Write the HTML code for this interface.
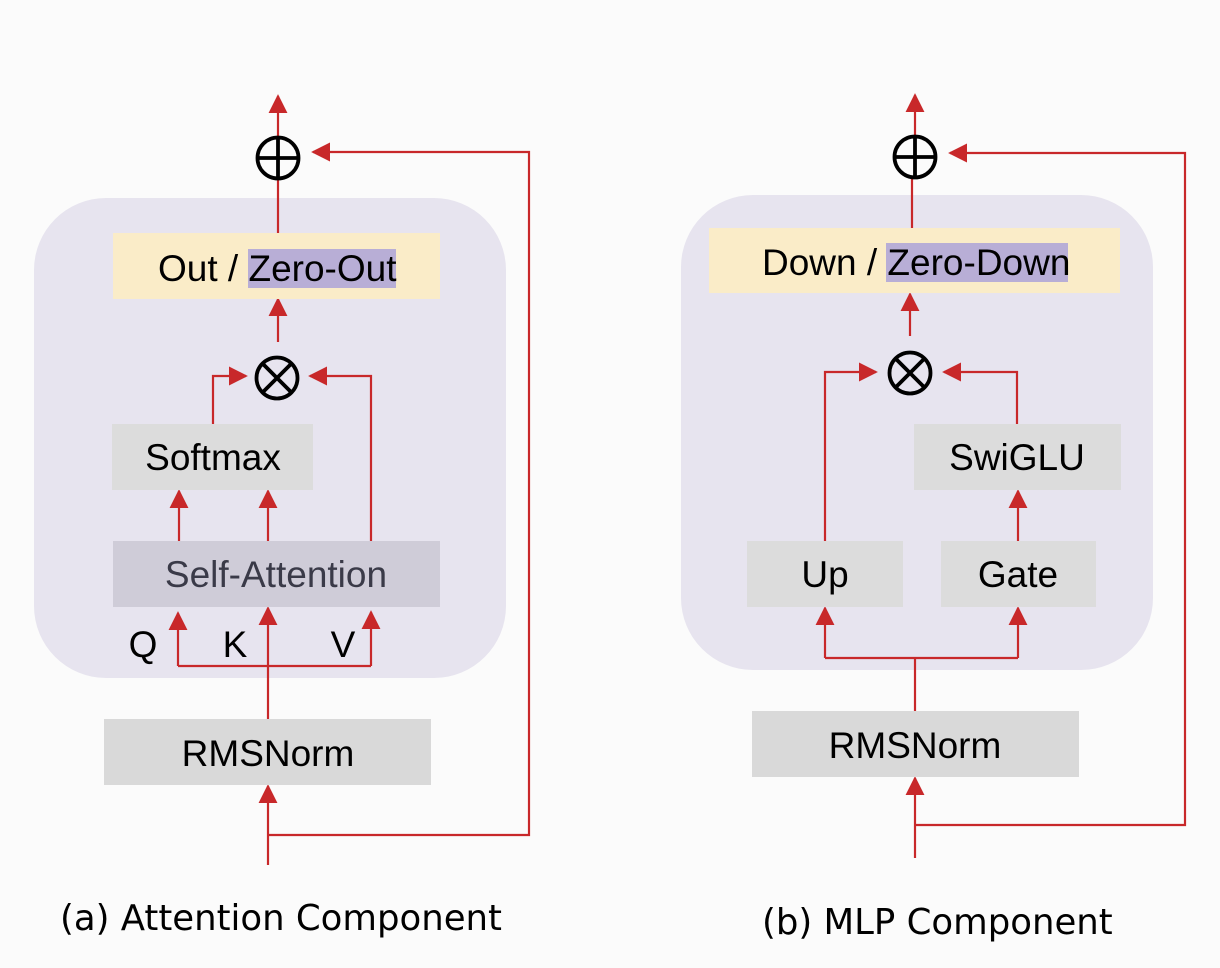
<!DOCTYPE html>
<html><head><meta charset="utf-8"><style>
html,body{margin:0;padding:0;background:#fbfbfb}
svg{display:block}
.t{font-family:"Liberation Sans",Arial,sans-serif;font-size:37px}
.c{font-family:"DejaVu Sans",sans-serif;font-size:35.5px}
</style></head><body>
<svg width="1220" height="968" viewBox="0 0 1220 968" xmlns="http://www.w3.org/2000/svg">
<defs>
<marker id="a" viewBox="0 0 10 10" refX="9" refY="5" markerWidth="19" markerHeight="19" markerUnits="userSpaceOnUse" orient="auto">
<path d="M0,0 L10,5 L0,10 z" fill="#c8282a"/>
</marker>
</defs>
<rect width="1220" height="968" fill="#fbfbfb"/>
<rect x="34" y="198" width="472" height="480" rx="72" fill="#e7e4ef"/>
<rect x="681" y="195" width="472" height="475" rx="72" fill="#e7e4ef"/>

<g stroke="#c8282a" stroke-width="2.2" fill="none">
<path d="M278,138 V96" marker-end="url(#a)"/>
<path d="M278,178 V233"/>
<path d="M268,835 H529 V152 H313" marker-end="url(#a)"/>
<path d="M278,342 V299" marker-end="url(#a)"/>
<path d="M213,424 V376 H246" marker-end="url(#a)"/>
<path d="M371,565 V376 H310" marker-end="url(#a)"/>
<path d="M179,541 V491" marker-end="url(#a)"/>
<path d="M268,541 V491" marker-end="url(#a)"/>
<path d="M178,666 H371"/>
<path d="M178,666 V613" marker-end="url(#a)"/>
<path d="M371,666 V612" marker-end="url(#a)"/>
<path d="M268,719 V608" marker-end="url(#a)"/>
<path d="M268,865 V786" marker-end="url(#a)"/>
<path d="M915,137 V95" marker-end="url(#a)"/>
<path d="M912,177 V228"/>
<path d="M915,825 H1185 V153 H950" marker-end="url(#a)"/>
<path d="M910,336 V294" marker-end="url(#a)"/>
<path d="M825,541 V372 H876" marker-end="url(#a)"/>
<path d="M1017,424 V372 H944" marker-end="url(#a)"/>
<path d="M1018,541 V491" marker-end="url(#a)"/>
<path d="M825,658 H1018"/>
<path d="M825,658 V608" marker-end="url(#a)"/>
<path d="M1018,658 V608" marker-end="url(#a)"/>
<path d="M915,711 V658"/>
<path d="M915,858 V778" marker-end="url(#a)"/>
</g>

<g stroke="#000" stroke-width="3.8" fill="none">
<circle cx="278" cy="158" r="20.5"/><path d="M257,158 H299 M278,137 V179"/>
<circle cx="277" cy="378" r="20.5"/><path d="M263,364 L291,392 M291,364 L263,392"/>
<circle cx="915" cy="157" r="20.5"/><path d="M894,157 H936 M915,136 V178"/>
<circle cx="910" cy="373" r="20.5"/><path d="M896,359 L924,387 M924,359 L896,387"/>
</g>

<rect x="113" y="233" width="327" height="66" fill="#faecc8"/>
<rect x="248" y="249" width="148" height="39" fill="#b8aed6"/>
<text class="t" x="158" y="281">Out / Zero-Out</text>
<rect x="112" y="424" width="201" height="66" fill="#dcdcdc"/>
<text class="t" x="213" y="470" text-anchor="middle">Softmax</text>
<rect x="113" y="541" width="327" height="66" fill="#cfccd8"/>
<text class="t" x="276" y="587" text-anchor="middle" fill="#3a3a48">Self-Attention</text>
<text class="t" x="143" y="657" text-anchor="middle">Q</text>
<text class="t" x="235" y="657" text-anchor="middle">K</text>
<text class="t" x="343" y="657" text-anchor="middle">V</text>
<rect x="104" y="719" width="327" height="66" fill="#d9d9d9"/>
<text class="t" x="268" y="766" text-anchor="middle">RMSNorm</text>

<rect x="709" y="228" width="411" height="65" fill="#faecc8"/>
<rect x="886" y="243" width="182" height="39" fill="#b8aed6"/>
<text class="t" x="762" y="275">Down / Zero-Down</text>
<rect x="914" y="424" width="207" height="66" fill="#dcdcdc"/>
<text class="t" x="1017" y="470" text-anchor="middle">SwiGLU</text>
<rect x="747" y="541" width="156" height="66" fill="#dcdcdc"/>
<text class="t" x="825" y="587" text-anchor="middle">Up</text>
<rect x="941" y="541" width="155" height="66" fill="#dcdcdc"/>
<text class="t" x="1018" y="587" text-anchor="middle">Gate</text>
<rect x="752" y="711" width="327" height="66" fill="#d9d9d9"/>
<text class="t" x="915" y="758" text-anchor="middle">RMSNorm</text>

<text class="c" x="60" y="930">(a) Attention Component</text>
<text class="c" x="762" y="934">(b) MLP Component</text>
</svg>
</body></html>
